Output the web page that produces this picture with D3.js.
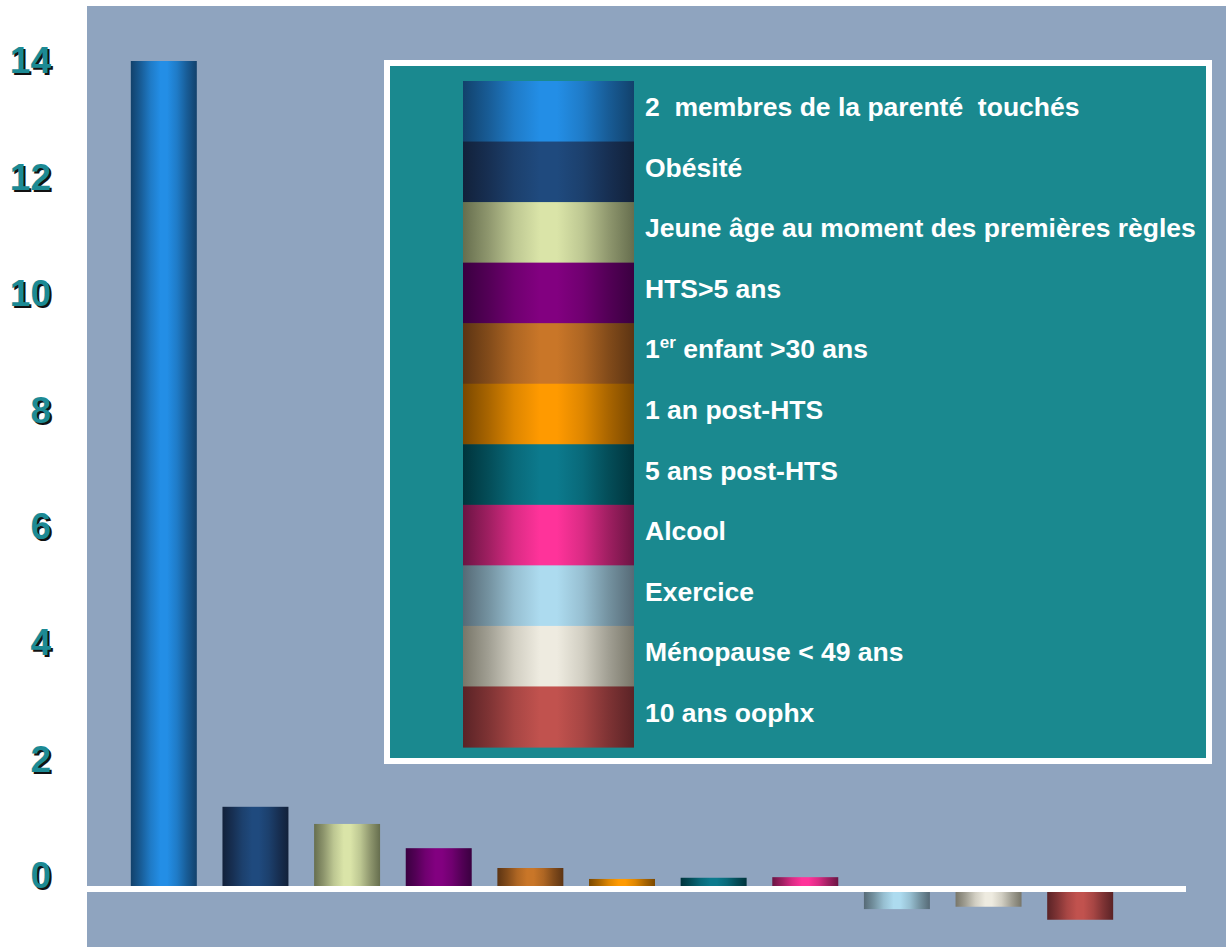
<!DOCTYPE html>
<html><head><meta charset="utf-8">
<script src="https://cdn.jsdelivr.net/npm/d3@7"></script>
<style>html,body{margin:0;padding:0;background:#fff;}svg{display:block;font-family:"Liberation Sans",Arial,sans-serif;}</style>
</head><body>
<script>
const categories = ["2  membres de la parenté  touchés","Obésité","Jeune âge au moment des premières règles","HTS>5 ans","1er enfant >30 ans","1 an post-HTS","5 ans post-HTS","Alcool","Exercice","Ménopause < 49 ans","10 ans oophx"];
const values = [14, 1.39, 1.10, 0.69, 0.355, 0.17, 0.19, 0.20, -0.34, -0.30, -0.52];
const edgeColors = ["#12416B","#12213A","#666E4E","#3A0040","#5C3413","#7A4800","#00343C","#6B1443","#566A76","#787669","#5A2326"];
const midColors  = ["#238EE6","#1F4A7E","#DAE4A8","#820080","#C97628","#FF9A00","#0C7A8D","#FF339A","#ADDBEF","#EEEBE0","#C1524E"];
const tickValues = [0,2,4,6,8,10,12,14];

const W=1226,H=947;
const svg=d3.select("body").append("svg").attr("width",W).attr("height",H);
const defs=svg.append("defs");
categories.forEach((c,i)=>{
  const g=defs.append("linearGradient").attr("id","g"+i).attr("x1","0").attr("x2","1").attr("y1","0").attr("y2","0");
  const mix=d3.interpolateRgb(edgeColors[i],midColors[i]);
  [[0,0],[0.15,0.35],[0.3,0.75],[0.45,1],[0.55,1],[0.7,0.75],[0.85,0.35],[1,0]].forEach(([o,t])=>{
    g.append("stop").attr("offset",o).attr("stop-color",mix(t));
  });
});

// plot background
svg.append("rect").attr("x",87).attr("y",6).attr("width",W-87).attr("height",H-6).attr("fill","#8FA4BF");

const x=d3.scaleBand().domain(categories).range([118,1126]).paddingInner(0.28).paddingOuter(0.14);
const y=d3.scaleLinear().domain([0,14]).range([889,61]);
const yLab=d3.scaleLinear().domain([0,14]).range([877,62]);

svg.append("g").selectAll("rect").data(values).join("rect")
  .attr("x",(d,i)=>x(categories[i]))
  .attr("width",x.bandwidth())
  .attr("y",d=>Math.min(y(d),y(0)))
  .attr("height",d=>Math.abs(y(d)-y(0)))
  .attr("fill",(d,i)=>`url(#g${i})`);

// zero line
svg.append("line").attr("x1",87).attr("x2",1186).attr("y1",y(0)).attr("y2",y(0))
  .attr("stroke","#fff").attr("stroke-width",6);

// y tick labels with shadow
const tg=svg.append("g");
tickValues.forEach(v=>{
  tg.append("text").attr("x",53).attr("y",yLab(v)).attr("dy","0.36em").attr("text-anchor","end")
    .attr("font-size",37).attr("font-weight","bold").attr("fill","#111").text(v);
  tg.append("text").attr("x",51).attr("y",yLab(v)-2).attr("dy","0.36em").attr("text-anchor","end")
    .attr("font-size",37).attr("font-weight","bold").attr("fill","#1C8A94").text(v);
});

// legend
svg.append("rect").attr("x",387).attr("y",63).attr("width",822).attr("height",698)
  .attr("fill","#1A898F").attr("stroke","#fff").attr("stroke-width",6);
const ly=d3.scaleBand().domain(categories).range([81,747]);
const lg=svg.append("g");
categories.forEach((c,i)=>{
  lg.append("rect").attr("x",463).attr("y",ly(c)).attr("width",171).attr("height",ly.bandwidth()+0.6)
    .attr("fill",`url(#g${i})`);
  const t=lg.append("text").attr("x",645).attr("y",ly(c)+ly.bandwidth()/2+5)
    .attr("font-size",26.5).attr("font-weight","bold").attr("fill","#fff").attr("xml:space","preserve").style("white-space","pre");
  if(c.startsWith("1er")){
    t.append("tspan").text("1");
    t.append("tspan").attr("font-size",17).attr("dy",-10).text("er");
    t.append("tspan").attr("dy",10).text(" enfant >30 ans");
  } else t.text(c);
});
</script>
</body></html>
